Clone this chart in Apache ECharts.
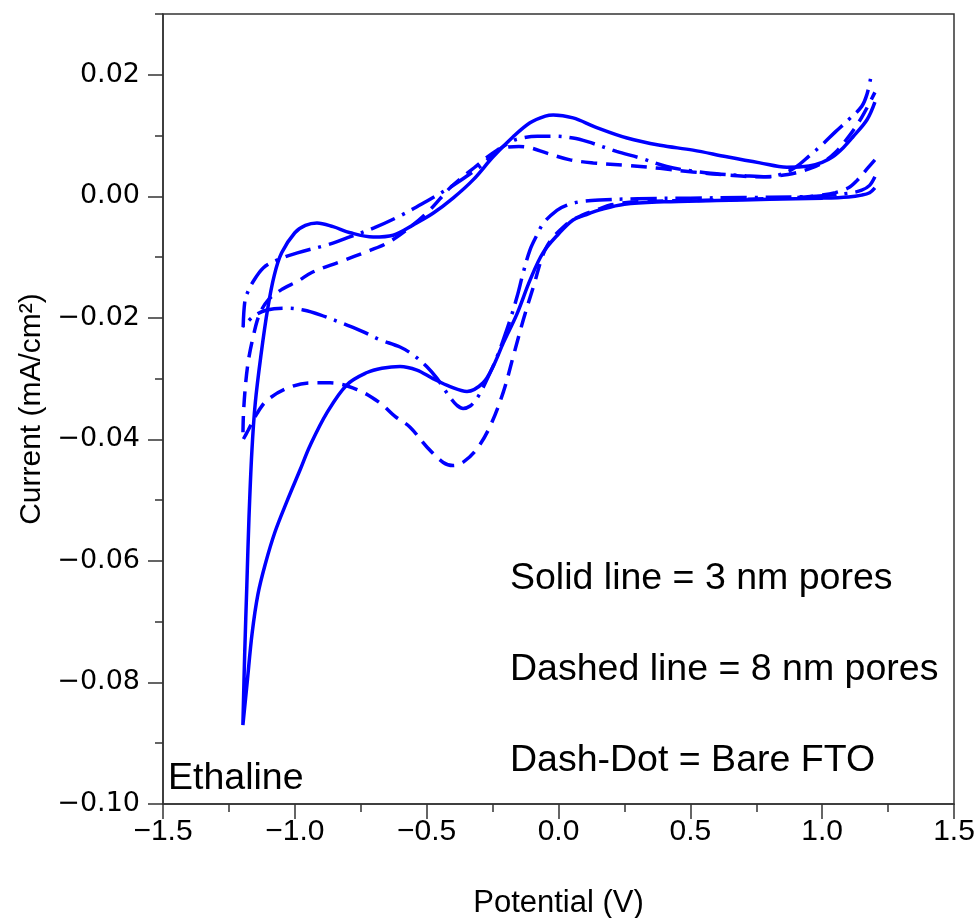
<!DOCTYPE html>
<html><head><meta charset="utf-8">
<script src="https://cdn.jsdelivr.net/npm/echarts@6/dist/echarts.min.js"></script>
<style>html,body{margin:0;padding:0;background:#fff}#c{width:979px;height:918px}</style>
</head><body><div id="c"></div>
<script>
// Axis ticks
const xTicks = [-1.5, -1.0, -0.5, 0.0, 0.5, 1.0, 1.5];
const yTicks = [-0.10, -0.08, -0.06, -0.04, -0.02, 0.00, 0.02];

// Solid line = 3 nm pores (reverse branch right->left, then forward branch left->right)
const solidV = [1.2, 1.18, 1.15, 1.1, 1.0, 0.8, 0.6, 0.4, 0.25, 0.16, 0.1, 0.055, 0.0, -0.059, -0.108, -0.157, -0.21, -0.248, -0.286, -0.347, -0.411, -0.476, -0.537, -0.601, -0.67, -0.726, -0.802, -0.878, -0.942, -0.98, -1.03, -1.075, -1.112, -1.14, -1.162, -1.181, -1.197,
  -1.19, -1.182, -1.174, -1.163, -1.15, -1.128, -1.103, -1.078, -1.05, -1.0, -0.96, -0.916, -0.855, -0.79, -0.703, -0.627, -0.551, -0.476, -0.4, -0.324, -0.248, -0.172, -0.108, -0.05, -0.02, 0.055, 0.14, 0.26, 0.385, 0.51, 0.638, 0.764, 0.866, 0.95, 1.0, 1.04, 1.08, 1.117, 1.17, 1.2];
const solidI = [0.0014, 0.0006, 0.0002, -0.0001, -0.0003, -0.0005, -0.0007, -0.0009, -0.0013, -0.0022, -0.0031, -0.0039, -0.0062, -0.0093, -0.0138, -0.0193, -0.0242, -0.028, -0.0307, -0.0321, -0.0313, -0.030, -0.0286, -0.028, -0.0283, -0.029, -0.031, -0.0356, -0.041, -0.045, -0.0502, -0.0552, -0.0605, -0.0655, -0.0719, -0.0801, -0.087,
  -0.075, -0.064, -0.053, -0.042, -0.034, -0.026, -0.0185, -0.013, -0.0093, -0.006, -0.0048, -0.0044, -0.005, -0.006, -0.0067, -0.0064, -0.0047, -0.0028, -0.0003, 0.0027, 0.0065, 0.0098, 0.0121, 0.0132, 0.0134, 0.0129, 0.0114, 0.0096, 0.0084, 0.0076, 0.0065, 0.0055, 0.0048, 0.005, 0.0056, 0.0065, 0.008, 0.0098, 0.0126, 0.0155];

// Dashed line = 8 nm pores
const dashedV = [1.2, 1.17, 1.13, 1.1, 1.05, 1.0, 0.9, 0.7, 0.5, 0.3, 0.2, 0.146, 0.09, 0.03, -0.045, -0.096, -0.134, -0.172, -0.21, -0.26, -0.31, -0.36, -0.4, -0.437, -0.5, -0.563, -0.62, -0.677, -0.764, -0.866, -0.942, -1.03, -1.106, -1.143, -1.177, -1.197,
  -1.195, -1.187, -1.176, -1.16, -1.135, -1.1, -1.045, -0.99, -0.934, -0.83, -0.715, -0.65, -0.575, -0.487, -0.411, -0.32, -0.233, -0.195, -0.15, -0.108, -0.044, 0.044, 0.132, 0.26, 0.385, 0.51, 0.638, 0.764, 0.87, 0.95, 1.0, 1.05, 1.1, 1.15, 1.2];
const dashedI = [0.006, 0.0045, 0.0025, 0.0014, 0.0006, 0.0002, -0.0002, -0.0005, -0.0007, -0.0009, -0.0014, -0.0022, -0.0031, -0.0046, -0.0083, -0.015, -0.0204, -0.0264, -0.0323, -0.0379, -0.0416, -0.0437, -0.0443, -0.0438, -0.0412, -0.038, -0.0362, -0.034, -0.0318, -0.0307, -0.0307, -0.0316, -0.0336, -0.0357, -0.0385, -0.0401,
  -0.036, -0.031, -0.027, -0.0235, -0.0195, -0.017, -0.0152, -0.014, -0.0125, -0.0108, -0.0089, -0.0077, -0.0055, -0.0022, 0.0014, 0.0047, 0.0076, 0.0081, 0.0082, 0.008, 0.0071, 0.006, 0.0055, 0.0051, 0.0046, 0.004, 0.0035, 0.0032, 0.0036, 0.0045, 0.0055, 0.0072, 0.0098, 0.013, 0.0171];

// Dash-Dot = Bare FTO
const dashDotV = [1.2, 1.18, 1.15, 1.1, 1.0, 0.9, 0.7, 0.5, 0.3, 0.157, 0.08, 0.03, -0.006, -0.057, -0.082, -0.108, -0.134, -0.157, -0.184, -0.21, -0.233, -0.26, -0.29, -0.31, -0.335, -0.362, -0.385, -0.404, -0.437, -0.46, -0.5, -0.551, -0.601, -0.677, -0.74, -0.802, -0.904, -0.968, -1.03, -1.106, -1.158, -1.196,
  -1.189, -1.176, -1.162, -1.12, -1.068, -0.99, -0.878, -0.8, -0.7, -0.6, -0.5, -0.41, -0.3, -0.27, -0.233, -0.195, -0.157, -0.08, -0.02, 0.055, 0.11, 0.22, 0.31, 0.41, 0.5, 0.6, 0.7, 0.79, 0.85, 0.9, 0.95, 1.0, 1.05, 1.1, 1.15, 1.17, 1.185];
const dashDotI = [0.0032, 0.0018, 0.001, 0.0005, 0.0001, -0.0001, -0.0002, -0.0003, -0.0004, -0.0006, -0.0009, -0.0015, -0.0023, -0.0044, -0.0064, -0.0088, -0.0126, -0.0165, -0.0204, -0.0237, -0.0264, -0.0291, -0.0318, -0.0333, -0.0345, -0.0349, -0.0344, -0.0335, -0.0315, -0.030, -0.028, -0.0261, -0.0248, -0.0236, -0.0223, -0.0212, -0.0195, -0.0187, -0.0184, -0.0187, -0.0198, -0.0215,
  -0.0171, -0.0155, -0.0143, -0.0118, -0.0105, -0.0093, -0.008, -0.0068, -0.0052, -0.0032, -0.0008, 0.0015, 0.0048, 0.006, 0.0074, 0.0086, 0.0094, 0.0099, 0.0099, 0.0096, 0.009, 0.0074, 0.0063, 0.0049, 0.0042, 0.0037, 0.0034, 0.0032, 0.0037, 0.0048, 0.0066, 0.0085, 0.0106, 0.0126, 0.0148, 0.0168, 0.0197];

const zip = (a, b) => a.map((v, i) => [v, b[i]]);
const minus = '\u2212';
const fmt = (v, d) => (v < -1e-9 ? minus : '') + Math.abs(v).toFixed(d);

const AX = '#333';
const blue = '#0000ff';
const SANS = '"Liberation Sans", Arial, sans-serif';
const chart = echarts.init(document.getElementById('c'), null, {renderer: 'canvas'});
chart.setOption({
  animation: false,
  backgroundColor: '#fff',
  grid: {left: 163, right: 25, top: 14, bottom: 114, containLabel: false, outerBoundsMode: 'none',
    show: true, borderColor: AX, borderWidth: 1.5, backgroundColor: 'transparent'},
  xAxis: [{
    type: 'value', min: xTicks[0], max: xTicks[xTicks.length - 1], interval: 0.5,
    axisLine: {show: true, onZero: false, lineStyle: {color: AX, width: 1.5}},
    axisTick: {show: true, length: 15, inside: false, lineStyle: {color: AX, width: 1.5}},
    minorTick: {show: true, splitNumber: 2, length: 8, lineStyle: {color: AX, width: 1.5}},
    splitLine: {show: false},
    axisLabel: {margin: 13, fontSize: 30, fontFamily: SANS, color: '#000',
      formatter: v => fmt(v, 1)},
    name: 'Potential (V)', nameLocation: 'middle', nameGap: 84,
    nameTextStyle: {fontSize: 31, fontFamily: SANS, color: '#000'}
  }],
  yAxis: [{
    type: 'value', min: yTicks[0], max: 0.03, interval: 0.02,
    axisLine: {show: true, onZero: false, lineStyle: {color: AX, width: 1.5}},
    axisTick: {show: true, length: 15, inside: false, customValues: yTicks, lineStyle: {color: AX, width: 1.5}},
    splitLine: {show: false},
    axisLabel: {margin: 23, fontSize: 27, fontFamily: '"DejaVu Sans", sans-serif', color: '#000', customValues: yTicks,
      formatter: v => (v > 0.025 ? '' : fmt(v, 2))},
    name: 'Current (mA/cm\u00B2)', nameLocation: 'middle', nameGap: 114, nameRotate: 90,
    nameTextStyle: {fontSize: 30, fontFamily: SANS, color: '#000'}
  }, {
    type: 'value', min: yTicks[0], max: 0.03, interval: 0.01, position: 'left',
    axisLine: {show: false, onZero: false},
    axisTick: {show: true, length: 8, inside: false, lineStyle: {color: AX, width: 1.5}},
    axisLabel: {show: false}, splitLine: {show: false}
  }],
  series: [
    {name: 'Solid line = 3 nm pores', type: 'line', data: zip(solidV, solidI), showSymbol: false, symbol: 'none', smooth: 0.35,
      lineStyle: {color: blue, width: 3.5, type: 'solid'}},
    {name: 'Dashed line = 8 nm pores', type: 'line', data: zip(dashedV, dashedI), showSymbol: false, symbol: 'none', smooth: 0.35,
      lineStyle: {color: blue, width: 3.5, type: [16, 9]}},
    {name: 'Dash-Dot = Bare FTO', type: 'line', data: zip(dashDotV, dashDotI), showSymbol: false, symbol: 'none', smooth: 0.35,
      lineStyle: {color: blue, width: 3.5, type: [26, 8, 3, 8]}}
  ],
  graphic: [
    {type: 'text', x: 510, y: 579, style: {text: 'Solid line = 3 nm pores', font: '37.5px ' + SANS, fill: '#000', verticalAlign: 'middle'}},
    {type: 'text', x: 510, y: 670, style: {text: 'Dashed line = 8 nm pores', font: '37.5px ' + SANS, fill: '#000', verticalAlign: 'middle'}},
    {type: 'text', x: 510, y: 761, style: {text: 'Dash-Dot = Bare FTO', font: '37.5px ' + SANS, fill: '#000', verticalAlign: 'middle'}},
    {type: 'text', x: 168, y: 779, style: {text: 'Ethaline', font: '37.5px ' + SANS, fill: '#000', verticalAlign: 'middle'}}
  ]
});
</script></body></html>
